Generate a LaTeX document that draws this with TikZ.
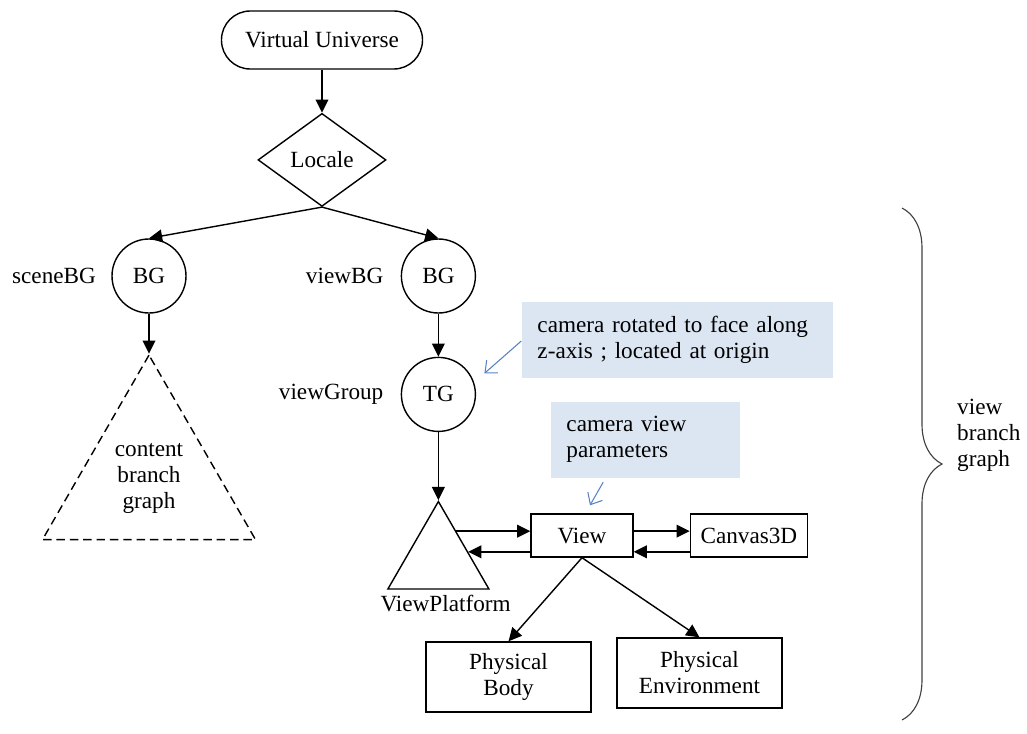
\documentclass[tikz,border=0pt]{standalone}
\usepackage{fontspec}
\setmainfont{Liberation Serif}
\usetikzlibrary{arrows.meta,positioning,shapes.geometric,decorations.pathreplacing}
\definecolor{notefill}{RGB}{220,230,242}
\definecolor{noteline}{RGB}{84,130,194}

\begin{document}
\begin{tikzpicture}[
  font=\fontsize{16.5}{18.5}\selectfont, line width=1pt,
  term/.style={draw, rounded corners=0.72cm, minimum width=5.025cm, minimum height=1.45cm},
  dia/.style={draw, diamond, inner sep=0pt, minimum width=3.2cm, minimum height=2.325cm},
  grp/.style={draw, circle, inner sep=0pt, minimum size=1.85cm},
  tri/.style={draw, regular polygon, regular polygon sides=3, inner sep=0pt},
  box/.style={draw, align=center, inner sep=2pt, minimum height=1.075cm},
  note/.style={fill=notefill, align=left, inner xsep=0.39cm, minimum height=1.9cm},
  arr/.style={-{Triangle[length=0.33cm,width=0.32cm]}},
  narr/.style={-{Straight Barb[length=0.24cm,width=0.42cm]}, draw=noteline, line width=0.75pt}
]
\useasboundingbox (-8.05,1) rectangle (17.625,-17.35);

\node[term] (vu) {Virtual Universe};
\node[dia, below=1.075cm of vu] (locale) {Locale};
\node[grp, label={[label distance=0.25cm]left:sceneBG}] (sbg) at (-4.325,-5.9) {BG};
\node[grp, right=5.35cm of sbg, label={[label distance=0.3cm]left:viewBG}] (vbg) {BG};
\node[grp, below=1.075cm of vbg, label={[label distance=0.3cm]left:viewGroup}] (tg) {TG};
\node[tri, dash pattern=on 6pt off 3.5pt, minimum size=6.15cm, below=1.0cm of sbg, align=center] (cbg) {content\\branch\\graph};
\node[tri, minimum size=2.915cm, below=1.7cm of tg, label={[xshift=0.18cm]below:ViewPlatform}] (vp) {};

\node[box, minimum width=2.55cm] (view) at (6.5,-12.3875) {View};
\node[box, minimum width=2.925cm, right=1.4cm of view] (canvas) {Canvas3D};
\node[box, minimum width=4.125cm, minimum height=1.75cm] (pbody) at (4.6625,-15.925) {Physical\\Body};
\node[box, minimum width=4.125cm, minimum height=1.75cm] (penv) at (9.4375,-15.825) {Physical\\Environment};

\node[note, text width=7cm] (note1) at (8.8875,-7.4875) {camera rotated to face along\\z-axis ; located at origin};
\node[note, text width=3.95cm] (note2) at (8.0875,-9.9875) {camera view\\parameters};

% brace on the right
\coordinate (btop) at (14.5,-4.2);
\coordinate (bbot) at (14.5,-17);
\draw[decorate, decoration={brace, amplitude=1cm}, draw=black!75, line width=0.8pt] (btop) -- (bbot)
  node[midway, right=1.25cm, yshift=0.72cm, align=left] (vbr) {view\\branch\\graph};

\draw[arr] (vu) -- (locale);
\draw[arr] (locale.south) -- (sbg.north);
\draw[arr] (locale.south) -- (vbg.north);
\draw[arr] (sbg) -- (cbg.north);
\draw[arr] (vbg) -- (tg);
\draw[arr] (tg) -- (vp.north);
\draw[arr] (vp.58) -- (vp.58 -| view.west);
\draw[arr] (view.west |- vp.15) -- (vp.15);
\draw[arr] (view.east |- vp.58) -- (canvas.west |- vp.58);
\draw[arr] (canvas.west |- vp.15) -- (view.east |- vp.15);
\draw[arr] (view.south) -- (pbody.north);
\draw[arr] (view.south) -- (penv.north);

\draw[narr] ([yshift=-0.04cm]note1.west) -- ([xshift=1.15cm,yshift=0.525cm]tg.center);
\draw[narr] ([xshift=1.325cm,yshift=-0.1cm]note2.south west) -- ([xshift=0.2cm,yshift=0.2cm]view.north);
\end{tikzpicture}
\end{document}
